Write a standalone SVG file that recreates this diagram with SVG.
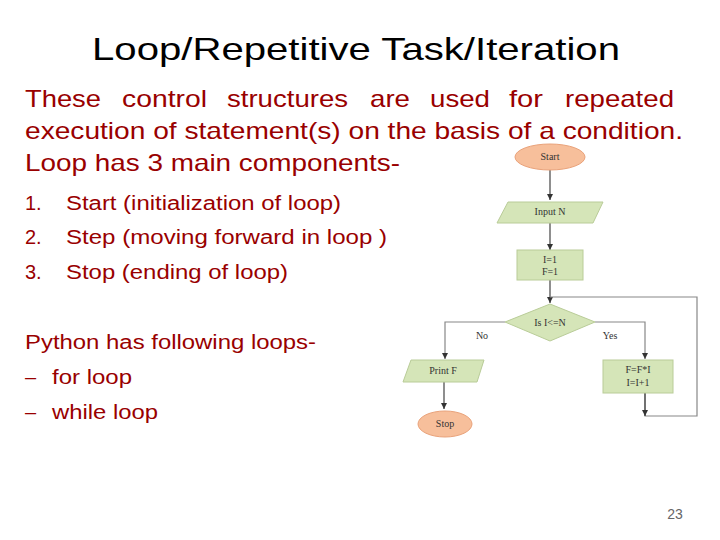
<svg xmlns="http://www.w3.org/2000/svg" width="720" height="540" viewBox="0 0 720 540">
<style>
.t{font-family:"Liberation Sans",Arial,sans-serif;fill:#990000}
.p{font-size:24px}.l{font-size:20px}
.fc{font-family:"Liberation Serif","Times New Roman",serif;font-size:10px;fill:#333;text-anchor:middle}
.g{fill:#d5e5b8;stroke:#b9cc98;stroke-width:1}
.o{fill:#f7bf9b;stroke:#e9a27a;stroke-width:1}
.c{fill:none;stroke:#444;stroke-width:1.2}
.c2{fill:none;stroke:#888;stroke-width:1.2}
</style>
<defs><marker id="a" markerWidth="8" markerHeight="8" refX="6" refY="3" orient="auto" markerUnits="userSpaceOnUse"><path d="M0,0 L6,3 L0,6 Z" fill="#333"/></marker></defs>
<rect width="720" height="540" fill="#fff"/>
<text x="92" y="60" textLength="528" lengthAdjust="spacingAndGlyphs" font-family="Liberation Sans,Arial,sans-serif" font-size="32" fill="#000">Loop/Repetitive Task/Iteration</text>
<g class="t p" lengthAdjust="spacingAndGlyphs">
<text x="25" y="107" textLength="76" lengthAdjust="spacingAndGlyphs">These</text><text x="122" y="107" textLength="85" lengthAdjust="spacingAndGlyphs">control</text><text x="227" y="107" textLength="121" lengthAdjust="spacingAndGlyphs">structures</text><text x="370" y="107" textLength="40" lengthAdjust="spacingAndGlyphs">are</text><text x="430" y="107" textLength="60" lengthAdjust="spacingAndGlyphs">used</text><text x="509" y="107" textLength="34" lengthAdjust="spacingAndGlyphs">for</text><text x="565" y="107" textLength="109" lengthAdjust="spacingAndGlyphs">repeated</text>
<text x="25" y="139" textLength="658" lengthAdjust="spacingAndGlyphs">execution of statement(s) on the basis of a condition.</text>
<text x="25" y="171" textLength="375" lengthAdjust="spacingAndGlyphs">Loop has 3 main components-</text>
</g>
<g class="t l">
<text x="25" y="210">1.</text><text x="66" y="210" textLength="275" lengthAdjust="spacingAndGlyphs">Start (initialization of loop)</text>
<text x="25" y="244">2.</text><text x="66" y="244" textLength="321" lengthAdjust="spacingAndGlyphs">Step (moving forward in loop )</text>
<text x="25" y="279">3.</text><text x="66" y="279" textLength="222" lengthAdjust="spacingAndGlyphs">Stop (ending of loop)</text>
<text x="25" y="349" textLength="291" lengthAdjust="spacingAndGlyphs">Python has following loops-</text>
<text x="25" y="384">–</text><text x="52" y="384" textLength="80" lengthAdjust="spacingAndGlyphs">for loop</text>
<text x="25" y="419">–</text><text x="52" y="419" textLength="106" lengthAdjust="spacingAndGlyphs">while loop</text>
</g>
<text x="675" y="519" text-anchor="middle" font-family="Liberation Sans,Arial,sans-serif" font-size="14" fill="#666">23</text>
<g id="connectors">
<path class="c" d="M550,170 V200" marker-end="url(#a)"/>
<path class="c" d="M550,223 V250" marker-end="url(#a)"/>
<path class="c" d="M550,280 V303" marker-end="url(#a)"/>
<path class="c2" d="M645,393 V416 H697 V297 H550"/>
<path class="c" d="M645,393 V416" marker-end="url(#a)"/>
<path class="c2" d="M505,322 H445 V359" marker-end="url(#a)"/>
<path class="c2" d="M595,322 H645 V359" marker-end="url(#a)"/>
<path class="c" d="M444,382 V409" marker-end="url(#a)"/>
<text class="fc" x="482" y="339">No</text>
<text class="fc" x="610" y="339">Yes</text>
</g>
<g id="start"><ellipse class="o" cx="550" cy="157" rx="35" ry="13"/><text class="fc" x="550" y="160">Start</text></g>
<g id="input"><polygon class="g" points="508,202 603,202 593,223 497,223"/><text class="fc" x="550" y="215">Input N</text></g>
<g id="init"><rect class="g" x="517" y="250" width="66" height="30"/><text class="fc" x="550" y="263">I=1</text><text class="fc" x="550" y="275">F=1</text></g>
<g id="cond"><polygon class="g" points="550,304 595,322 550,341 505,322"/><text class="fc" x="550" y="326">Is I&lt;=N</text></g>
<g id="print"><polygon class="g" points="411,360 484,360 477,382 403,382"/><text class="fc" x="443" y="374">Print F</text></g>
<g id="update"><rect class="g" x="603" y="360" width="70" height="33"/><text class="fc" x="638" y="373">F=F*I</text><text class="fc" x="638" y="386">I=I+1</text></g>
<g id="stop"><ellipse class="o" cx="445" cy="424" rx="27" ry="13"/><text class="fc" x="445" y="427">Stop</text></g>
</svg>
